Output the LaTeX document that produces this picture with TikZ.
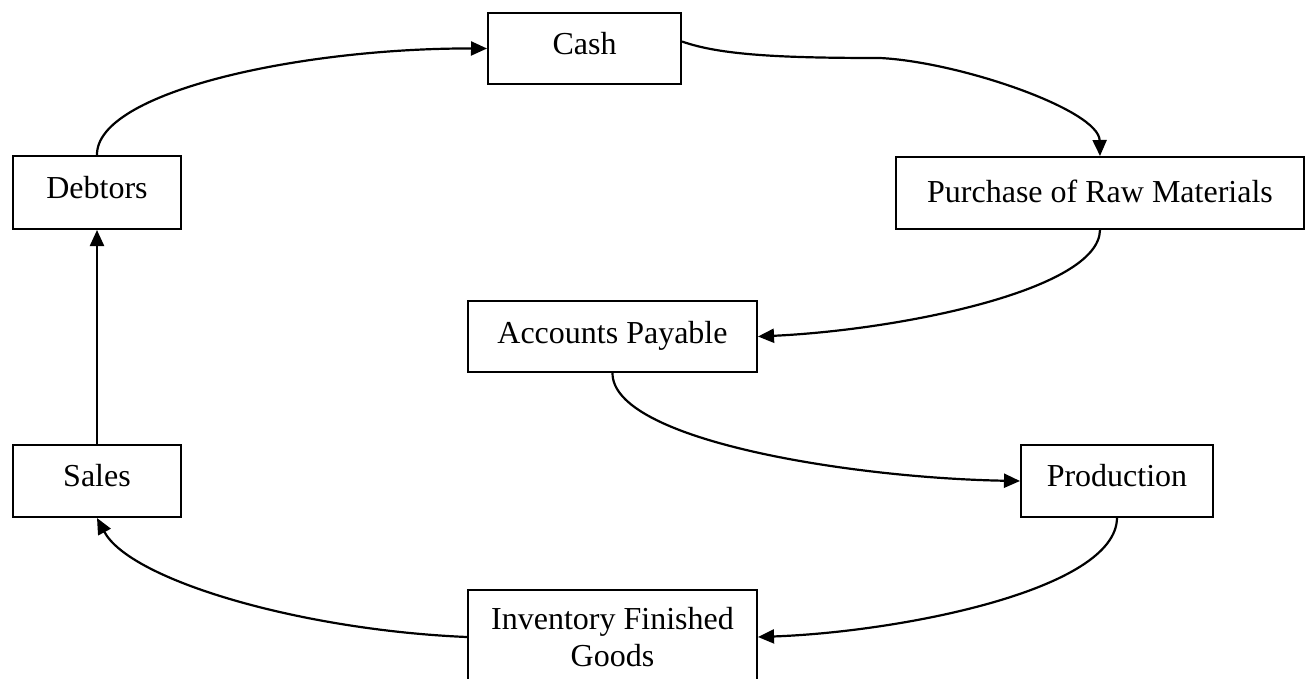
\documentclass[tikz,border=0pt]{standalone}
\usepackage{fontspec}
\setmainfont{Liberation Serif}
\usetikzlibrary{arrows.meta}
\tikzset{
  box/.style={draw=black, line width=2pt, rectangle, inner sep=0pt, anchor=north west,
    font=\fontsize{32}{37}\selectfont},
  conn/.style={draw=black, line width=2.2pt, -{Triangle[length=16pt,width=14pt]}},
}
\begin{document}
\begin{tikzpicture}[x=1pt,y=-1pt]
\useasboundingbox (0,0) rectangle (1309,678);
\clip (0,0) rectangle (1309,678);
\node[box, minimum width=193, text height=41, text depth=30] (cash) at (487,12) {Cash};
\node[box, minimum width=168, text height=42, text depth=31] (deb) at (12,155) {Debtors};
\node[box, minimum width=408, text height=45, text depth=27] (pur) at (895,156) {Purchase of Raw Materials};
\node[box, minimum width=289, text height=42, text depth=29] (ap) at (467,300) {Accounts Payable};
\node[box, minimum width=168, text height=41, text depth=31] (sales) at (12,444) {Sales};
\node[box, minimum width=192, text height=41, text depth=31] (prod) at (1020,444) {Production};
\node[box, minimum width=289, text height=39, text depth=100] (inv) at (467,589)
  {\parbox[t]{280pt}{\centering Inventory Finished\\Goods}};
\coordinate (invE) at (inv.north east |- 0,637);
\coordinate (invW) at (inv.north west |- 0,637);
% connectors
\draw[conn] (deb.north) .. controls (96,92) and (300,48) .. (cash.west);
\draw[conn] ([yshift=7pt]cash.east) .. controls (720,55) and (780,58) .. (880,58)
  .. controls (960,62) and (1099,110) .. (pur.north);
\draw[conn] (pur.south) .. controls (1099,290) and (900,330) .. (ap.east);
\draw[conn] (ap.south) .. controls (612,440) and (850,478) .. (prod.west);
\draw[conn] (prod.south) .. controls (1116,590) and (900,632) .. (invE);
\draw[conn] (invW) .. controls (300,630) and (130,580) .. (sales.south);
\draw[conn] (sales.north) -- (deb.south);
\end{tikzpicture}
\end{document}
